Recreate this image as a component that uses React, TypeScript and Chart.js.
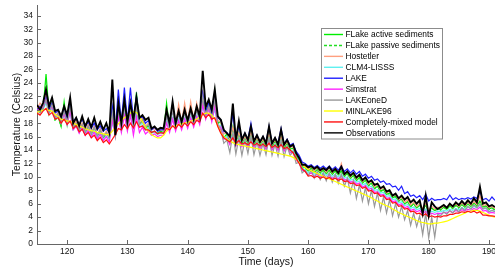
import React, { useEffect, useRef } from "react";
import { Chart, registerables } from "chart.js";

Chart.register(...registerables);

// Sampling grid: every half day from day 115 to day 191
const DAYS: number[] = Array.from({ length: 153 }, (_, i) => 115 + i * 0.5);

const X_TICKS = [120, 130, 140, 150, 160, 170, 180, 190];
const Y_TICKS = [0, 2, 4, 6, 8, 10, 12, 14, 16, 18, 20, 22, 24, 26, 28, 30, 32, 34];

const FLAKE_ACTIVE = [
  19.8, 20.5, 20.0, 25.3, 19.5, 21.5, 18.5, 19.0, 17.5, 21.2,
  17.8, 20.8, 17.2, 17.8, 16.8, 17.8, 16.5, 17.6, 16.2, 17.4,
  15.9, 17.0, 15.7, 16.6, 15.8, 20.0, 16.5, 20.5, 17.2, 21.0,
  17.4, 21.0, 17.6, 22.6, 17.8, 18.5, 17.2, 17.6, 16.6, 16.8,
  16.5, 16.8, 16.6, 21.0, 17.2, 20.5, 17.4, 19.8, 17.6, 20.0,
  17.8, 20.2, 18.0, 20.4, 18.4, 22.0, 19.2, 21.0, 18.8, 22.7,
  18.0, 18.4, 15.8, 16.4, 15.2, 17.5, 15.0, 16.6, 14.9, 16.0,
  14.9, 16.5, 14.8, 15.8, 14.7, 15.6, 14.6, 16.4, 14.5, 15.4,
  14.4, 16.0, 14.3, 15.0, 14.1, 14.3, 13.0, 12.6, 11.5, 11.4,
  10.9, 11.3, 10.7, 11.1, 10.6, 11.0, 10.5, 11.0, 10.4, 10.9,
  10.3, 10.9, 10.1, 10.5, 9.8, 10.2, 9.5, 9.9, 9.1, 9.5,
  8.7, 9.1, 8.3, 8.6, 7.9, 8.1, 7.4, 7.6, 6.9, 7.1,
  6.4, 6.7, 6.0, 6.3, 5.6, 6.0, 5.4, 5.8, 5.1, 5.8,
  4.9, 5.4, 5.0, 5.3, 5.1, 5.5, 5.2, 5.7, 5.3, 5.8,
  5.4, 5.9, 5.5, 6.0, 5.6, 6.1, 5.7, 6.4, 5.5, 5.7,
  5.2, 5.4, 5.1,
];

const FLAKE_PASSIVE = [
  19.7, 20.3, 19.9, 24.5, 19.4, 21.2, 18.4, 18.9, 17.5, 20.8,
  17.7, 20.5, 17.1, 17.7, 16.7, 17.7, 16.4, 17.5, 16.1, 17.3,
  15.8, 16.9, 15.6, 16.5, 15.7, 19.6, 16.4, 20.2, 17.1, 20.7,
  17.3, 20.7, 17.5, 22.0, 17.7, 18.3, 17.1, 17.5, 16.5, 16.7,
  16.4, 16.7, 16.5, 20.5, 17.1, 20.2, 17.3, 19.6, 17.5, 19.8,
  17.7, 20.0, 17.9, 20.2, 18.3, 21.6, 19.1, 20.8, 18.7, 22.2,
  17.9, 18.2, 15.7, 16.3, 15.1, 17.2, 14.9, 16.4, 14.8, 15.8,
  14.8, 16.3, 14.7, 15.6, 14.6, 15.4, 14.5, 16.2, 14.4, 15.3,
  14.3, 15.8, 14.2, 14.9, 14.0, 14.2, 12.9, 12.5, 11.4, 11.3,
  10.8, 11.2, 10.6, 11.0, 10.5, 10.9, 10.4, 10.9, 10.3, 10.8,
  10.2, 10.8, 10.0, 10.4, 9.7, 10.1, 9.4, 9.8, 9.0, 9.4,
  8.6, 9.0, 8.2, 8.5, 7.8, 8.0, 7.3, 7.5, 6.8, 7.0,
  6.3, 6.6, 5.9, 6.2, 5.5, 5.9, 5.3, 5.7, 5.0, 5.7,
  4.8, 5.3, 4.9, 5.2, 5.0, 5.4, 5.1, 5.6, 5.2, 5.7,
  5.3, 5.8, 5.4, 5.9, 5.5, 6.0, 5.6, 6.3, 5.4, 5.6,
  5.1, 5.3, 5.0,
];

const HOSTETLER = [
  20.2, 21.0, 20.4, 22.5, 19.8, 21.0, 19.0, 19.6, 18.3, 20.0,
  18.2, 20.5, 17.6, 18.3, 17.2, 18.0, 16.8, 17.8, 16.5, 17.6,
  16.3, 17.2, 16.1, 16.8, 16.0, 19.0, 16.8, 20.0, 17.5, 20.5,
  17.7, 20.5, 17.9, 21.0, 18.1, 18.8, 17.6, 18.0, 17.0, 17.2,
  16.8, 17.0, 17.0, 20.0, 17.6, 20.8, 17.8, 20.8, 18.0, 21.0,
  18.2, 21.2, 18.4, 21.0, 18.8, 22.5, 19.6, 21.2, 19.2, 21.8,
  18.4, 18.2, 16.4, 16.6, 15.6, 17.4, 15.4, 16.6, 15.3, 16.0,
  15.2, 16.6, 15.1, 15.8, 15.0, 15.6, 14.9, 16.4, 14.8, 15.5,
  14.7, 16.0, 14.6, 15.2, 14.4, 14.5, 13.3, 12.8, 11.7, 11.6,
  11.1, 11.6, 10.9, 11.4, 10.8, 11.3, 10.7, 11.4, 10.6, 11.4,
  10.5, 12.0, 10.3, 10.9, 10.0, 10.6, 9.7, 10.3, 9.3, 9.9,
  8.9, 9.4, 8.5, 8.9, 8.1, 8.4, 7.6, 7.9, 7.1, 7.4,
  6.6, 7.0, 6.2, 6.6, 5.8, 6.2, 5.6, 6.0, 5.3, 6.0,
  5.1, 5.6, 5.2, 5.5, 5.3, 5.7, 5.4, 5.9, 5.5, 6.0,
  5.6, 6.1, 5.7, 6.2, 5.8, 6.3, 5.9, 7.2, 5.7, 5.9,
  5.4, 5.6, 5.3,
];

const CLM4_LISSS = [
  19.8, 19.6, 20.0, 21.0, 19.4, 20.2, 18.7, 19.0, 18.0, 19.2,
  17.8, 19.6, 17.0, 17.6, 16.6, 17.4, 16.3, 17.1, 16.0, 16.9,
  15.8, 16.5, 15.6, 16.1, 15.6, 18.0, 16.4, 19.0, 17.0, 19.5,
  17.2, 19.5, 17.4, 19.8, 17.6, 18.0, 17.0, 17.3, 16.5, 16.7,
  16.3, 16.5, 16.5, 18.2, 17.0, 18.8, 17.2, 18.6, 17.4, 18.8,
  17.6, 19.0, 17.8, 19.2, 18.2, 20.5, 19.0, 20.0, 18.6, 20.0,
  17.8, 17.6, 15.8, 16.0, 15.0, 16.4, 14.8, 15.8, 14.7, 15.4,
  14.6, 15.8, 14.5, 15.2, 14.4, 15.0, 14.3, 15.6, 14.2, 14.9,
  14.1, 15.3, 14.0, 14.6, 13.8, 13.9, 12.8, 12.4, 11.3, 11.1,
  10.6, 10.9, 10.4, 10.7, 10.3, 10.6, 10.2, 10.5, 10.1, 10.4,
  10.0, 10.4, 9.8, 10.0, 9.5, 9.7, 9.2, 9.4, 8.8, 9.0,
  8.4, 8.6, 8.0, 8.1, 7.6, 7.7, 7.1, 7.2, 6.6, 6.7,
  6.1, 6.3, 5.7, 5.9, 5.3, 5.5, 5.1, 5.3, 4.8, 5.2,
  4.6, 4.9, 4.7, 4.9, 4.8, 5.0, 4.9, 5.2, 5.0, 5.3,
  5.1, 5.4, 5.2, 5.5, 5.3, 5.6, 5.4, 5.8, 5.2, 5.3,
  4.9, 5.0, 4.9,
];

const LAKE = [
  20.0, 20.5, 20.2, 21.8, 20.0, 21.0, 19.5, 19.8, 18.8, 20.0,
  18.8, 20.8, 18.2, 18.8, 17.8, 18.6, 17.4, 18.2, 17.2, 18.0,
  17.0, 17.6, 16.8, 17.2, 16.6, 20.5, 17.0, 23.0, 18.0, 23.3,
  18.2, 23.3, 18.4, 22.0, 18.6, 19.0, 18.0, 18.4, 17.0, 17.4,
  16.8, 17.0, 17.0, 19.0, 17.6, 20.0, 17.8, 19.4, 18.0, 19.6,
  18.2, 19.8, 18.4, 20.0, 18.8, 22.5, 19.8, 21.0, 19.5, 22.5,
  18.8, 18.5, 16.8, 16.6, 16.0, 19.5, 15.6, 17.6, 15.5, 16.5,
  15.5, 18.0, 15.3, 16.2, 15.2, 16.0, 15.1, 17.5, 15.0, 15.8,
  15.0, 17.2, 14.9, 15.6, 14.7, 15.0, 13.8, 13.2, 12.2, 12.0,
  11.6, 11.8, 11.4, 11.7, 11.3, 11.6, 11.2, 11.6, 11.1, 11.5,
  11.0, 11.6, 10.8, 11.2, 10.6, 11.0, 10.4, 10.8, 10.1, 10.4,
  9.8, 10.1, 9.5, 9.7, 9.2, 9.4, 8.9, 9.0, 8.5, 8.6,
  8.0, 8.6, 7.5, 7.8, 7.1, 7.3, 6.9, 7.2, 6.6, 7.4,
  6.4, 6.8, 6.5, 6.6, 6.6, 6.8, 6.6, 7.3, 6.6, 6.9,
  6.6, 6.8, 6.7, 6.9, 6.7, 7.0, 6.8, 7.8, 6.6, 6.8,
  6.4, 7.0, 6.5,
];

const SIMSTRAT = [
  19.8, 20.4, 20.2, 21.5, 19.6, 20.5, 18.8, 19.3, 18.0, 19.4,
  17.8, 19.8, 17.0, 17.6, 16.5, 17.4, 16.2, 17.0, 15.9, 16.7,
  15.6, 16.4, 15.4, 16.0, 15.2, 18.5, 16.0, 19.0, 16.6, 19.2,
  16.8, 19.2, 16.2, 19.0, 16.6, 17.4, 16.4, 16.8, 16.2, 16.4,
  16.0, 16.2, 16.2, 18.0, 16.6, 18.6, 16.8, 18.4, 17.0, 18.6,
  17.2, 18.8, 17.4, 19.0, 17.8, 20.8, 18.6, 20.2, 18.2, 20.6,
  17.6, 17.4, 15.6, 15.8, 14.8, 16.2, 14.6, 15.6, 14.5, 15.2,
  14.4, 15.6, 14.3, 15.0, 14.2, 14.8, 14.1, 15.4, 14.0, 14.7,
  13.9, 15.1, 13.8, 14.4, 13.6, 13.6, 12.5, 12.1, 11.0, 10.8,
  10.3, 10.6, 10.1, 10.4, 10.0, 10.3, 9.9, 10.2, 9.8, 10.1,
  9.7, 10.1, 9.5, 9.7, 9.2, 9.4, 8.9, 9.1, 8.5, 8.7,
  8.1, 8.3, 7.7, 7.8, 7.3, 7.4, 6.8, 6.9, 6.3, 6.4,
  5.8, 6.0, 5.4, 5.6, 5.0, 5.2, 4.8, 5.0, 4.5, 4.9,
  4.3, 4.6, 4.4, 4.6, 4.5, 4.7, 4.6, 4.9, 4.7, 5.0,
  4.8, 5.1, 4.9, 5.2, 5.0, 5.3, 5.1, 5.5, 4.9, 5.0,
  4.6, 4.7, 4.6,
];

const LAKEONED = [
  20.0, 19.5, 20.2, 21.5, 19.5, 20.8, 18.8, 19.5, 18.0, 19.8,
  18.0, 20.5, 17.4, 18.0, 17.0, 17.8, 16.7, 17.6, 16.5, 17.4,
  16.2, 17.0, 16.0, 16.6, 15.8, 19.5, 16.0, 20.0, 17.2, 20.5,
  17.4, 20.2, 17.6, 20.5, 17.8, 18.3, 17.4, 17.8, 16.6, 16.8,
  16.4, 16.6, 16.6, 19.0, 17.2, 20.0, 17.4, 19.5, 17.6, 19.6,
  17.8, 19.8, 18.0, 20.0, 18.4, 22.0, 19.2, 20.5, 18.8, 21.5,
  17.8, 17.0, 15.0, 15.5, 13.6, 16.5, 13.4, 15.8, 13.2, 15.5,
  13.5, 16.0, 13.3, 15.2, 13.2, 15.0, 13.3, 15.8, 13.2, 14.8,
  13.1, 15.4, 13.0, 14.6, 13.2, 13.8, 12.0, 12.2, 10.6, 11.0,
  10.2, 11.0, 9.8, 10.8, 9.6, 10.6, 9.4, 10.6, 9.2, 10.4,
  9.0, 10.4, 8.6, 9.8, 7.6, 9.4, 6.8, 8.8, 6.4, 8.4,
  6.0, 8.0, 5.6, 7.6, 5.0, 7.0, 4.6, 6.6, 4.2, 6.0,
  4.0, 5.6, 3.6, 5.0, 2.8, 4.6, 2.6, 4.2, 1.4, 4.6,
  0.9, 4.0, 1.0, 4.4, 4.2, 4.8, 4.4, 5.0, 4.6, 5.2,
  4.8, 5.4, 5.0, 5.6, 5.2, 5.8, 5.4, 6.0, 5.2, 5.4,
  4.8, 5.0, 4.8,
];

const MINLAKE96 = [
  19.6, 19.8, 19.9, 20.2, 19.9, 19.8, 19.3, 19.0, 18.6, 18.5,
  18.3, 18.3, 18.0, 17.8, 17.6, 17.4, 17.2, 17.0, 16.9, 16.8,
  16.6, 16.5, 16.4, 16.3, 16.3, 16.8, 17.4, 17.9, 18.4, 18.8,
  19.2, 19.5, 19.7, 19.6, 19.0, 18.2, 17.4, 16.8, 16.3, 16.0,
  15.8, 15.8, 16.2, 16.8, 17.2, 17.5, 17.6, 17.8, 17.9, 18.0,
  18.1, 18.3, 18.4, 18.6, 18.9, 19.3, 19.5, 19.5, 19.2, 18.6,
  17.6, 16.6, 16.0, 15.6, 15.3, 15.1, 14.9, 14.8, 14.7, 14.6,
  14.5, 14.4, 14.3, 14.2, 14.1, 14.0, 13.9, 13.8, 13.7, 13.6,
  13.5, 13.4, 13.3, 13.2, 13.1, 12.9, 12.6, 12.2, 11.8, 11.4,
  11.1, 10.9, 10.7, 10.5, 10.3, 10.1, 9.9, 9.7, 9.5, 9.3,
  9.1, 8.9, 8.7, 8.5, 8.3, 8.1, 7.9, 7.7, 7.5, 7.3,
  7.1, 6.9, 6.6, 6.4, 6.1, 5.9, 5.7, 5.5, 5.2, 5.0,
  4.7, 4.5, 4.3, 4.1, 3.9, 3.7, 3.5, 3.3, 3.2, 3.1,
  3.0, 3.0, 3.1, 3.1, 3.2, 3.3, 3.4, 3.6, 3.8, 4.0,
  4.2, 4.4, 4.6, 4.8, 4.9, 5.0, 5.0, 4.9, 4.7, 4.5,
  4.3, 4.1, 4.0,
];

const COMPLETELY_MIXED = [
  19.5, 19.2, 19.8, 20.2, 19.2, 19.6, 18.6, 18.8, 18.0, 18.6,
  17.8, 18.3, 17.2, 17.6, 16.7, 17.1, 16.2, 16.6, 15.8, 16.2,
  15.4, 15.9, 15.1, 15.5, 14.9, 15.6, 16.3, 17.2, 17.0, 17.8,
  17.2, 18.0, 17.3, 18.2, 17.4, 17.6, 17.0, 17.0, 16.6, 16.8,
  16.4, 16.6, 16.5, 17.2, 17.0, 17.6, 17.2, 17.8, 17.4, 18.0,
  17.6, 18.2, 17.8, 18.4, 18.2, 19.5, 18.8, 19.3, 18.6, 18.8,
  17.5, 16.5, 15.8, 15.5, 15.2, 15.8, 15.0, 15.4, 14.9, 15.1,
  14.8, 15.2, 14.7, 15.0, 14.6, 14.9, 14.5, 15.0, 14.4, 14.7,
  14.3, 14.8, 14.2, 14.4, 14.0, 13.6, 12.8, 12.0, 11.2, 10.8,
  10.1, 10.2, 9.9, 10.1, 9.8, 10.0, 9.7, 9.9, 9.6, 9.8,
  9.5, 9.7, 9.3, 9.4, 9.0, 9.1, 8.7, 8.8, 8.3, 8.5,
  7.9, 8.0, 7.5, 7.6, 7.1, 7.2, 6.6, 6.7, 6.1, 6.2,
  5.6, 5.7, 5.2, 5.3, 4.8, 4.9, 4.5, 4.6, 4.2, 4.5,
  4.0, 4.2, 4.0, 4.1, 4.0, 4.2, 4.2, 4.4, 4.4, 4.6,
  4.6, 4.8, 4.7, 4.9, 4.7, 4.9, 4.6, 4.8, 4.3, 4.3,
  4.2, 4.2, 4.1,
];

const OBSERVATIONS = [
  20.7, 20.0, 21.0, 23.0, 20.5, 21.8, 19.8, 20.0, 19.0, 20.5,
  19.2, 21.8, 18.0, 18.8, 17.6, 19.0, 17.5, 18.6, 17.4, 18.8,
  17.2, 18.2, 17.0, 18.0, 16.6, 24.5, 16.2, 21.0, 18.0, 21.5,
  18.2, 21.0, 18.5, 21.8, 18.8, 19.2, 18.5, 18.8, 17.2, 17.5,
  17.0, 17.3, 17.2, 20.0, 18.0, 21.2, 18.0, 19.8, 18.2, 20.0,
  18.4, 20.2, 18.6, 20.5, 19.0, 25.8, 20.4, 21.5, 20.0, 23.0,
  19.0, 18.5, 17.0, 16.5, 16.0, 20.9, 15.5, 18.3, 15.5, 16.5,
  15.5, 17.5, 15.3, 16.2, 15.2, 16.0, 15.0, 17.5, 15.0, 15.8,
  14.8, 17.0, 14.8, 15.5, 14.5, 14.8, 13.5, 12.8, 11.8, 11.8,
  11.4, 11.6, 11.2, 11.5, 11.0, 11.3, 11.0, 11.5, 10.8, 11.2,
  10.6, 11.5, 10.4, 10.8, 10.2, 10.6, 9.9, 10.3, 9.5, 9.9,
  9.2, 9.5, 8.8, 9.0, 8.3, 8.6, 7.8, 8.0, 7.2, 7.5,
  6.8, 7.2, 6.6, 7.0, 6.2, 6.6, 6.0, 6.5, 4.5, 7.2,
  4.2, 6.2, 5.6, 5.2, 5.5, 5.8, 5.4, 6.0, 5.6, 6.2,
  5.8, 6.4, 5.9, 6.5, 6.0, 6.8, 6.2, 8.5, 6.0, 6.2,
  5.6, 5.8, 5.5,
];

const LABELS = [
  "FLake active sediments",
  "FLake passive sediments",
  "Hostetler",
  "CLM4-LISSS",
  "LAKE",
  "Simstrat",
  "LAKEoneD",
  "MINLAKE96",
  "Completely-mixed model",
  "Observations",
];
const VALUES = [
  FLAKE_ACTIVE, FLAKE_PASSIVE, HOSTETLER, CLM4_LISSS, LAKE,
  SIMSTRAT, LAKEONED, MINLAKE96, COMPLETELY_MIXED, OBSERVATIONS,
];
const COLORS = [
  "#00ee00", "#22dd22", "#ff9f7f", "#5ff0f0", "#2020ff",
  "#ff22ff", "#999999", "#ffff00", "#ff1010", "#000000",
];
const DASHES: number[][] = [[], [3, 2], [], [], [], [], [], [], [], []];
const WIDTHS = [1.2, 1, 1.2, 1.2, 1.2, 1.2, 1.2, 1.2, 1.2, 1.9];

const FONT = "'Liberation Sans', Arial, Helvetica, sans-serif";

export default function App() {
  const ref = useRef<HTMLCanvasElement>(null);

  useEffect(() => {
    document.body.style.margin = "0";
    const canvas = ref.current;
    if (!canvas) return;

    const datasets = LABELS.map((label, k) => ({
      label,
      data: DAYS.map((d, i) => ({ x: d, y: VALUES[k][i] })),
      borderColor: COLORS[k],
      backgroundColor: COLORS[k],
      borderWidth: WIDTHS[k],
      borderDash: DASHES[k],
      pointRadius: 0,
      tension: 0,
      fill: false,
      order: LABELS.length - k,
    }));

    const inwardTicks = {
      id: "inwardTicks",
      afterDraw(chart: any) {
        const { ctx, chartArea, scales } = chart;
        ctx.save();
        ctx.strokeStyle = "#666";
        ctx.lineWidth = 1;
        ctx.beginPath();
        Y_TICKS.forEach((v) => {
          const py = Math.round(scales.y.getPixelForValue(v)) + 0.5;
          ctx.moveTo(chartArea.left, py);
          ctx.lineTo(chartArea.left + 4, py);
        });
        X_TICKS.forEach((v) => {
          const px = Math.round(scales.x.getPixelForValue(v)) + 0.5;
          ctx.moveTo(px, chartArea.bottom);
          ctx.lineTo(px, chartArea.bottom - 4);
        });
        ctx.stroke();
        ctx.restore();
      },
    };

    const boxLegend = {
      id: "boxLegend",
      afterDraw(chart: any) {
        const { ctx } = chart;
        const x0 = 321.5, y0 = 28.5, w = 121, h = 110.5;
        ctx.save();
        ctx.fillStyle = "#ffffff";
        ctx.fillRect(x0, y0, w, h);
        ctx.strokeStyle = "#8c8c8c";
        ctx.lineWidth = 1;
        ctx.strokeRect(x0, y0, w, h);
        ctx.font = `8.4px ${FONT}`;
        ctx.textBaseline = "middle";
        ctx.textAlign = "left";
        LABELS.forEach((label, i) => {
          const y = 34.5 + i * 10.93;
          ctx.strokeStyle = COLORS[i];
          ctx.lineWidth = 1.4;
          ctx.setLineDash(DASHES[i]);
          ctx.beginPath();
          ctx.moveTo(324, y);
          ctx.lineTo(343, y);
          ctx.stroke();
          ctx.setLineDash([]);
          ctx.fillStyle = "#000";
          ctx.fillText(label, 345.5, y + 0.5);
        });
        ctx.restore();
      },
    };

    const chart = new Chart(canvas, {
      type: "line",
      data: { datasets },
      options: {
        animation: false,
        responsive: false,
        maintainAspectRatio: false,
        layout: { padding: { top: 5, left: 0, right: 0, bottom: 0 } },
        plugins: {
          legend: { display: false },
          tooltip: { enabled: false },
        },
        scales: {
          x: {
            type: "linear",
            position: "bottom",
            min: 115,
            max: 191,
            grid: { display: false, drawTicks: false },
            border: { display: true, color: "#666", width: 1 },
            ticks: {
              color: "#111",
              font: { family: FONT, size: 8.5 },
              padding: 3,
              maxRotation: 0,
              autoSkip: false,
            },
            title: {
              display: true,
              text: "Time (days)",
              color: "#111",
              font: { family: FONT, size: 10.5 },
              padding: { top: 0, bottom: 0 },
            },
            afterBuildTicks: (s: any) => {
              s.ticks = X_TICKS.map((v) => ({ value: v }));
            },
            afterFit: (s: any) => {
              s.height = 24;
              s.paddingLeft = 0;
              s.paddingRight = 0;
            },
          },
          y: {
            type: "linear",
            min: 0,
            max: 35.6,
            grid: { display: false, drawTicks: false },
            border: { display: true, color: "#666", width: 1 },
            ticks: {
              color: "#111",
              font: { family: FONT, size: 8.5 },
              padding: 4,
              autoSkip: false,
            },
            title: {
              display: true,
              text: "Temperature (Celsius)",
              color: "#111",
              font: { family: FONT, size: 10.5 },
              padding: { top: 11, bottom: 0 },
            },
            afterBuildTicks: (s: any) => {
              s.ticks = Y_TICKS.map((v) => ({ value: v }));
            },
            afterFit: (s: any) => {
              s.width = 37;
              s.paddingTop = 0;
              s.paddingBottom = 0;
            },
          },
        },
      },
      plugins: [inwardTicks, boxLegend],
    });

    return () => chart.destroy();
  }, []);

  return (
    <div style={{ width: 495, height: 268, position: "relative" }}>
      <canvas ref={ref} width={495} height={268} style={{ display: "block", width: 495, height: 268 }} />
    </div>
  );
}
